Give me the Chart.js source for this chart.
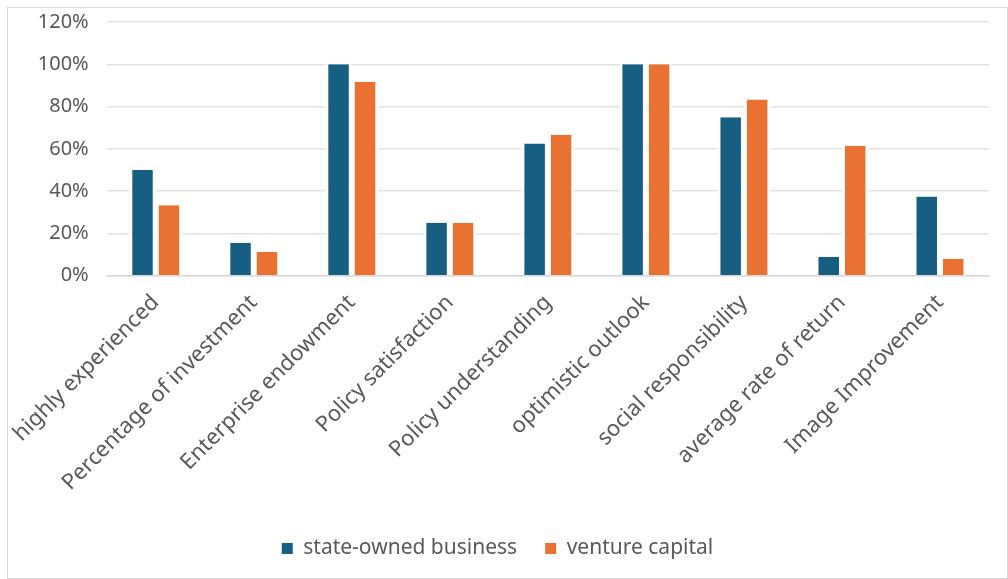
<!DOCTYPE html>
<html>
<head>
<meta charset="utf-8">
<script src="https://cdn.jsdelivr.net/npm/chart.js@4.4.1/dist/chart.umd.min.js"></script>
<style>
  html, body { margin: 0; padding: 0; background: #fff; }
  #frame {
    position: absolute; left: 7px; top: 7px;
    width: 999px; height: 570px;
    border: 1px solid #d9d9d9;
  }
  #wrap {
    position: absolute; left: -2px; top: -8px;
    width: 1009px; height: 586px;
  }
</style>
</head>
<body>
<div id="frame"></div>
<div id="wrap"><canvas id="chart"></canvas></div>
<script>
// categories
const categories = [
  'highly experienced',
  'Percentage of investment',
  'Enterprise endowment',
  'Policy satisfaction',
  'Policy understanding',
  'optimistic outlook',
  'social responsibility',
  'average rate of return',
  'Image Improvement'
];

// series values (percent)
const stateOwned = [50, 15.6, 100, 25, 62.5, 100, 75, 8.8, 37.5];
const ventureCapital = [33.3, 11.2, 91.7, 25, 66.7, 100, 83.3, 61.5, 8.0];

// y axis ticks
const yMin = 0;
const yMax = 120;
const yStep = 20;

const BLUE = '#165f82';
const ORANGE = '#e97132';
const TEXT = '#595959';
const FONT = "'Noto Sans', sans-serif";

// white side borders make the small gap between the two bars of a group
const sideGap = { left: 3, right: 3, top: 0, bottom: 0 };

new Chart(document.getElementById('chart'), {
  type: 'bar',
  data: {
    labels: categories,
    datasets: [
      {
        label: 'state-owned business',
        data: stateOwned,
        backgroundColor: BLUE,
        borderColor: '#ffffff',
        borderWidth: sideGap,
        borderSkipped: false
      },
      {
        label: 'venture capital',
        data: ventureCapital,
        backgroundColor: ORANGE,
        borderColor: '#ffffff',
        borderWidth: sideGap,
        borderSkipped: false
      }
    ]
  },
  options: {
    responsive: true,
    maintainAspectRatio: false,
    animation: false,
    categoryPercentage: 0.54,
    barPercentage: 1.0,
    layout: { padding: { left: 8, right: 18, top: 0, bottom: 9 } },
    plugins: {
      tooltip: { enabled: false },
      legend: {
        position: 'bottom',
        labels: {
          color: TEXT,
          font: { family: FONT, size: 21 },
          boxWidth: 11,
          boxHeight: 11,
          padding: 28,
          generateLabels(chart) {
            return chart.data.datasets.map((ds, i) => ({
              text: ds.label,
              fillStyle: ds.backgroundColor,
              strokeStyle: ds.backgroundColor,
              lineWidth: 0,
              fontColor: TEXT,
              datasetIndex: i
            }));
          }
        }
      }
    },
    scales: {
      x: {
        grid: { display: false, drawTicks: false },
        border: { color: '#d9d9d9', width: 1.5 },
        ticks: {
          color: TEXT,
          font: { family: FONT, size: 22 },
          minRotation: 45,
          maxRotation: 45,
          padding: 14
        }
      },
      y: {
        min: yMin,
        max: yMax,
        grid: { color: '#e3e3e3', lineWidth: 1.5, drawTicks: false },
        border: { display: false },
        ticks: {
          stepSize: yStep,
          color: TEXT,
          font: { family: FONT, size: 20 },
          padding: 18,
          callback: v => v + '%'
        }
      }
    }
  }
});
</script>
</body>
</html>
